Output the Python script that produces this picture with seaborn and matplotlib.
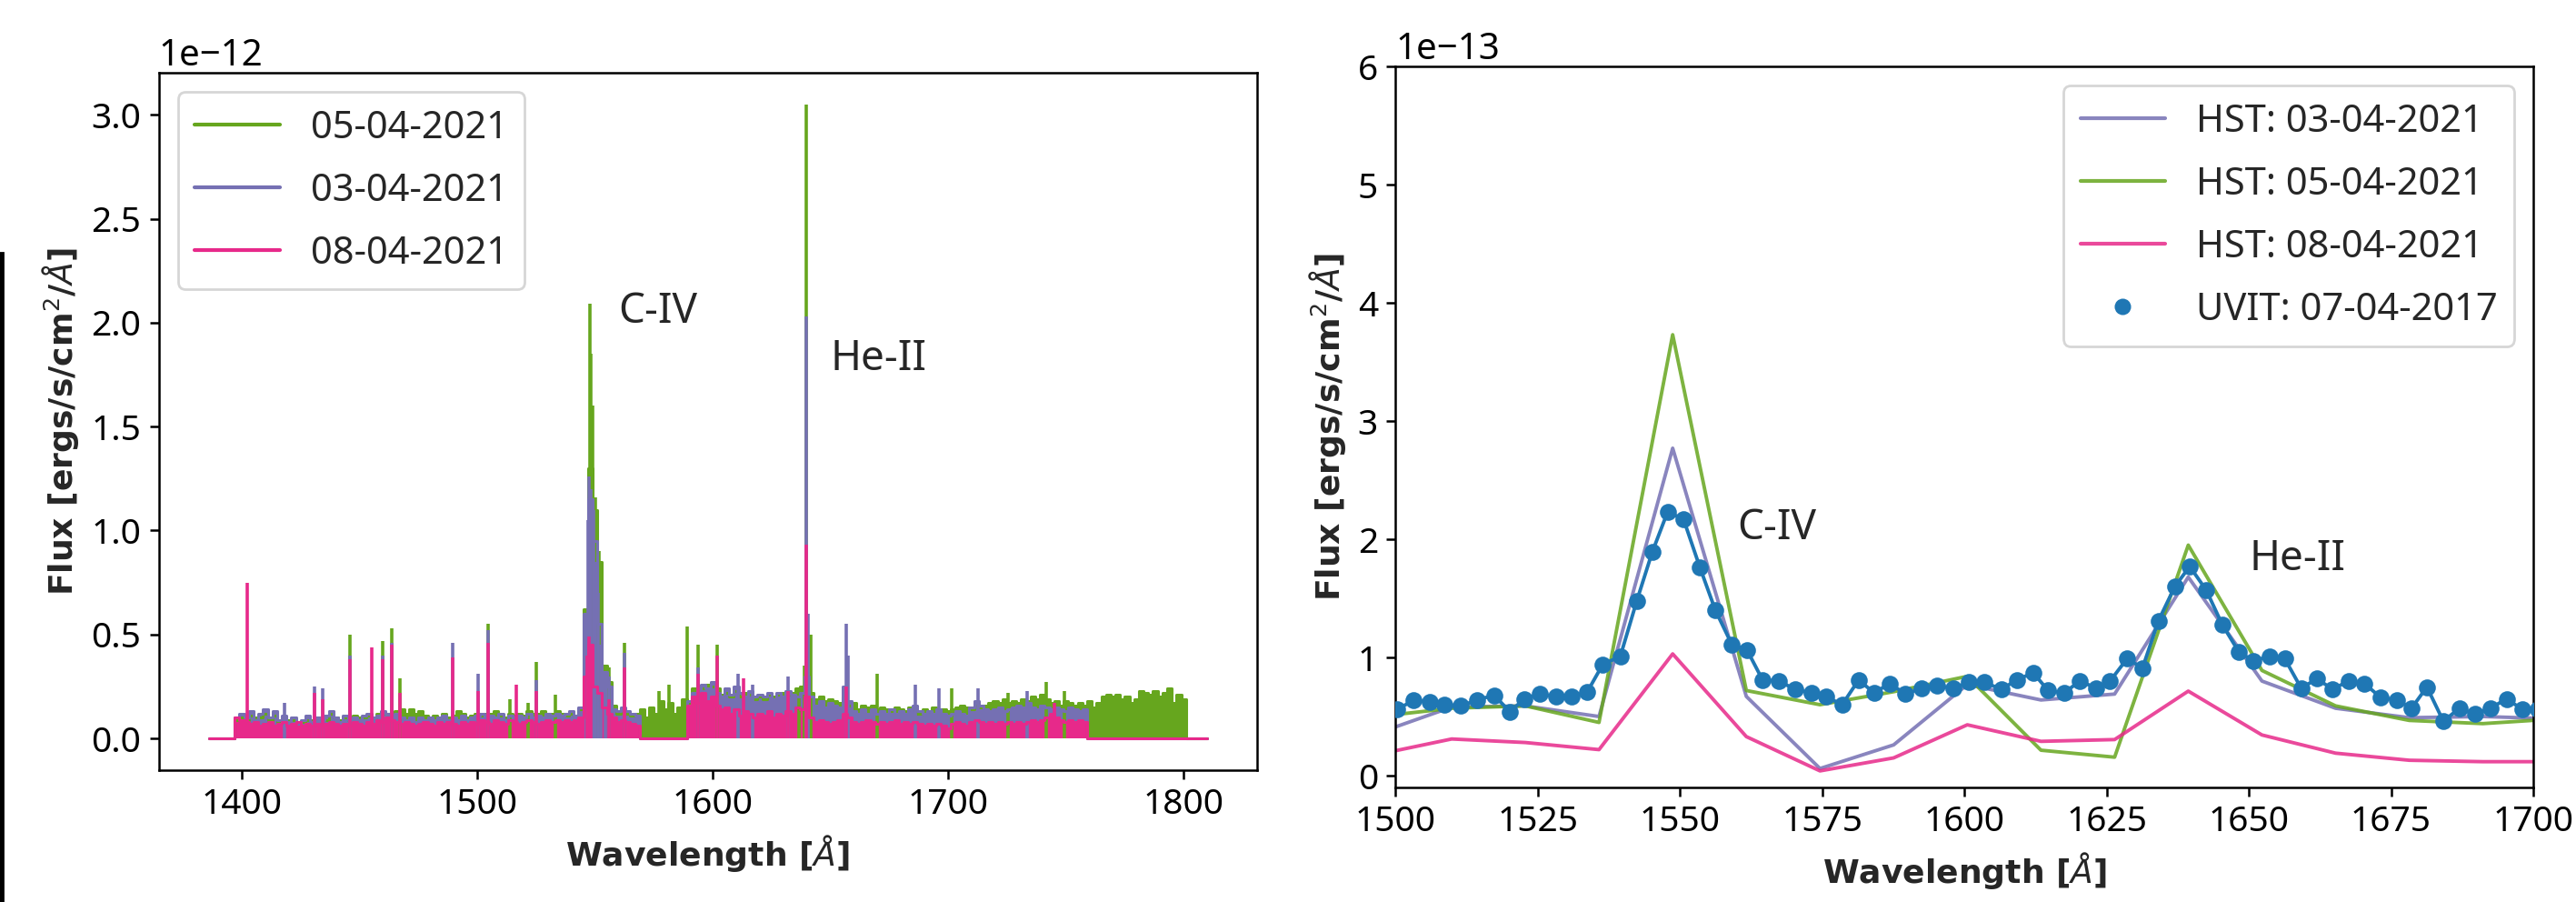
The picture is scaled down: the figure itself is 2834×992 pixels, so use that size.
import numpy as np
import matplotlib
matplotlib.use("Agg")
import matplotlib.pyplot as plt
from matplotlib.lines import Line2D
from matplotlib.patches import Rectangle
import seaborn as sns

# ---------------------------------------------------------------- data
# Full HST/COS spectra, binned on a 2 A grid (flux in units of 1e-12)
wl_grid = np.arange(1386, 1811, 2)

flux_0504 = [
    0, 0, 0, 0, 0, 0, .09, .10, .09, .11,                 # 1386
    .10, .10, .12, .09, .11, .08, .10, .09, .09, .08,     # 1406
    .08, .09, .09, .10, .10, .09, .12, .10, .09, .10,     # 1426
    .09, .11, .10, .10, .11, .10, .12, .12, .12, .12,     # 1446
    .13, .14, .12, .14, .12, .13, .11, .10, .11, .10,     # 1466
    .12, .10, .11, .13, .12, .10, .11, .12, .11, .12,     # 1486
    .12, .13, .11, .10, .12, .11, .12, .11, .13, .12,     # 1506
    .12, .13, .12, .12, .13, .12, .11, .12, .11, .14,     # 1526
    .62, 1.30, 1.10, .85, .35, .27, .16, .12, .14, .12,   # 1546
    .11, .12, .14, .10, .15, .12, .18, .14, .17, .12,     # 1566
    .15, .19, .17, .24, .23, .24, .26, .25, .24, .21,     # 1586
    .22, .20, .23, .20, .22, .21, .19, .20, .19, .21,     # 1606
    .20, .21, .22, .21, .22, .24, .25, .30, .22, .19,     # 1626
    .20, .18, .19, .18, .17, .20, .16, .17, .14, .16,     # 1646
    .15, .16, .14, .15, .14, .13, .15, .14, .13, .15,     # 1666
    .14, .12, .14, .13, .15, .13, .14, .13, .14, .15,     # 1686
    .16, .15, .14, .16, .15, .16, .17, .18, .17, .19,     # 1706
    .17, .18, .17, .19, .18, .20, .19, .21, .19, .17,     # 1726
    .18, .16, .18, .17, .16, .17, .16, .18, .15, .17,     # 1746
    .20, .21, .20, .21, .19, .20, .17, .19, .23, .22,     # 1766
    .21, .23, .20, .22, .24, .17, .21, .19, 0, 0,         # 1786
    0, 0, 0,                                              # 1806
]

flux_0304 = [
    0, 0, 0, 0, 0, 0, .10, .12, .10, .13,                 # 1386
    .09, .12, .14, .10, .13, .09, .11, .08, .10, .07,     # 1406
    .09, .11, .08, .10, .09, .11, .13, .10, .08, .11,     # 1426
    .09, .10, .09, .11, .12, .10, .11, .13, .12, .11,     # 1446
    .12, .10, .09, .10, .08, .10, .09, .10, .09, .10,     # 1466
    .11, .09, .10, .09, .11, .09, .10, .11, .12, .10,     # 1486
    .11, .10, .12, .09, .11, .10, .11, .10, .12, .10,     # 1506
    .11, .10, .12, .11, .12, .11, .12, .13, .11, .15,     # 1526
    .60, 1.15, .95, .55, .32, .25, .14, .13, .15, .13,    # 1546
    .12, .11, 0, 0, 0, 0, 0, 0, 0, 0,                     # 1566
    0, 0, .18, .22, .21, .26, .24, .27, .22, .20,         # 1586
    .24, .21, .25, .22, .20, .23, .20, .21, .20, .22,     # 1606
    .19, .22, .20, .23, .21, .20, .22, .30, .20, .16,     # 1626
    .18, .15, .17, .16, .15, .25, .18, .13, .12, .14,     # 1646
    .12, .14, .12, .13, .12, .14, .12, .13, .12, .14,     # 1666
    .16, .13, .12, .13, .12, .14, .12, .11, .12, .13,     # 1686
    .12, .11, .15, .18, .16, .14, .13, .14, .15, .13,     # 1706
    .14, .15, .16, .15, .17, .15, .14, .16, .15, .14,     # 1726
    .15, .14, .13, .15, .14, .13, .14, 0, 0, 0,           # 1746
    0, 0, 0, 0, 0, 0, 0, 0, 0, 0,                         # 1766
    0, 0, 0, 0, 0, 0, 0, 0, 0, 0,                         # 1786
    0, 0, 0,                                              # 1806
]

flux_0804 = [
    0, 0, 0, 0, 0, 0, .10, .09, .08, .07,                 # 1386
    .08, .06, .07, .08, .06, .07, .08, .06, .07, .08,     # 1406
    .06, .07, .06, .07, .06, .07, .08, .07, .06, .07,     # 1426
    .06, .08, .07, .06, .08, .07, .09, .08, .10, .09,     # 1446
    .08, .07, .08, .07, .06, .07, .08, .07, .06, .08,     # 1466
    .07, .08, .07, .06, .08, .07, .08, .07, .09, .08,     # 1486
    .07, .09, .08, .07, .09, .08, .07, .08, .09, .08,     # 1506
    .07, .08, .09, .08, .09, .08, .09, .08, .09, .10,     # 1526
    .30, .45, .25, .22, .15, .12, .10, .08, .09, .08,     # 1546
    .07, .06, 0, 0, 0, 0, 0, 0, 0, 0,                     # 1566
    0, 0, .16, .20, .17, .22, .18, .20, .16, .14,         # 1586
    .15, .12, .14, .11, .13, .12, .10, .12, .11, .13,     # 1606
    .10, .12, .11, .13, .12, .15, .14, .20, .10, .08,     # 1626
    .09, .08, .07, .08, .09, .12, .10, .08, .07, .08,     # 1646
    .09, .08, .07, .08, .07, .08, .09, .07, .08, .07,     # 1666
    .08, .07, .06, .07, .06, .07, .06, .05, .07, .08,     # 1686
    .07, .06, .08, .09, .08, .07, .08, .07, .08, .07,     # 1706
    .08, .07, .08, .07, .08, .09, .08, .09, .10, .12,     # 1726
    .10, .09, .08, .09, .08, .09, .08, 0, 0, 0,           # 1746
    0, 0, 0, 0, 0, 0, 0, 0, 0, 0,                         # 1766
    0, 0, 0, 0, 0, 0, 0, 0, 0, 0,                         # 1786
    0, 0, 0,                                              # 1806
]

# Narrow emission lines (wavelength, peak flux in 1e-12)
lines_0504_wl = [1445.8, 1460.0, 1463.6, 1467.0, 1504.6, 1514.0, 1521.5, 1525.0,
                 1533.3, 1547.7, 1548.4, 1549.1, 1550.2, 1551.0, 1551.8, 1556.0,
                 1562.5, 1577.1, 1581.3, 1589.1, 1593.7, 1601.8, 1636.7, 1638.8,
                 1639.8, 1641.8, 1669.9, 1701.5, 1725.4, 1741.7, 1749.4]
lines_0504_pk = [0.50, 0.47, 0.53, 0.29, 0.55, 0.19, 0.17, 0.37,
                 0.21, 2.09, 1.85, 1.60, 1.16, 1.05, 0.90, 0.34,
                 0.46, 0.23, 0.26, 0.54, 0.45, 0.45, 0.24, 0.35,
                 3.05, 0.50, 0.31, 0.24, 0.22, 0.27, 0.23]

lines_0304_wl = [1418.0, 1430.7, 1434.3, 1445.8, 1460.0, 1463.6, 1489.6, 1500.5,
                 1504.6, 1525.0, 1546.3, 1546.9, 1547.6, 1548.4, 1549.2, 1550.3,
                 1551.2, 1552.5, 1554.3, 1556.0, 1562.5, 1593.7, 1610.6, 1617.0,
                 1632.1, 1639.9, 1640.6, 1656.6, 1657.3, 1686.0, 1695.9, 1712.7,
                 1733.4]
lines_0304_pk = [0.17, 0.25, 0.24, 0.40, 0.40, 0.46, 0.46, 0.31,
                 0.52, 0.28, 0.60, 1.05, 1.26, 1.20, 1.10, 0.85,
                 0.70, 0.45, 0.32, 0.30, 0.41, 0.34, 0.31, 0.26,
                 0.30, 2.03, 0.60, 0.55, 0.40, 0.26, 0.24, 0.24,
                 0.23]

lines_0804_wl = [1402.2, 1430.7, 1434.3, 1445.8, 1455.0, 1460.0, 1463.6, 1467.0,
                 1489.6, 1500.5, 1504.6, 1516.4, 1524.9, 1546.8, 1547.6, 1548.4,
                 1556.0, 1562.5, 1593.7, 1601.8, 1613.0, 1632.1, 1639.9, 1656.6,
                 1745.3]
lines_0804_pk = [0.75, 0.22, 0.19, 0.38, 0.44, 0.38, 0.45, 0.22,
                 0.39, 0.23, 0.46, 0.26, 0.23, 0.40, 0.49, 0.45,
                 0.19, 0.34, 0.31, 0.40, 0.29, 0.23, 0.93, 0.25,
                 0.17]

# Spectra binned to the UVIT resolution (flux in units of 1e-13)
hst_wl = [1496.9, 1509.85, 1522.8, 1535.75, 1548.7, 1561.65, 1574.6, 1587.55,
          1600.5, 1613.45, 1626.4, 1639.35, 1652.3, 1665.25, 1678.2, 1691.15, 1704.1]
hst_0304 = [0.36, 0.58, 0.59, 0.50, 2.77, 0.67, 0.06, 0.26,
            0.77, 0.64, 0.69, 1.68, 0.80, 0.57, 0.49, 0.50, 0.48]
hst_0504 = [0.50, 0.57, 0.59, 0.45, 3.73, 0.72, 0.60, 0.71,
            0.84, 0.215, 0.156, 1.95, 0.89, 0.59, 0.467, 0.44, 0.48]
hst_0804 = [0.18, 0.31, 0.28, 0.22, 1.03, 0.33, 0.04, 0.15,
            0.43, 0.29, 0.305, 0.715, 0.344, 0.19, 0.13, 0.118, 0.118]

uvit_wl = [1497.5, 1500.3, 1503.2, 1506.0, 1508.6, 1511.5, 1514.3, 1517.3, 1520.1,
           1522.6, 1525.3, 1528.2, 1531.0, 1533.7, 1536.4, 1539.5, 1542.4, 1545.1,
           1547.8, 1550.6, 1553.5, 1556.2, 1559.1, 1561.8, 1564.5, 1567.4, 1570.2,
           1573.1, 1575.6, 1578.5, 1581.4, 1584.1, 1586.9, 1589.6, 1592.5, 1595.2,
           1598.1, 1600.8, 1603.5, 1606.5, 1609.2, 1612.1, 1614.7, 1617.5, 1620.3,
           1623.2, 1625.6, 1628.6, 1631.3, 1634.1, 1637.0, 1639.6, 1642.5, 1645.3,
           1648.2, 1650.8, 1653.6, 1656.3, 1659.2, 1662.0, 1664.7, 1667.5, 1670.3,
           1673.2, 1676.0, 1678.6, 1681.3, 1684.2, 1687.0, 1689.7, 1692.5, 1695.3,
           1698.1, 1700.8]
uvit_flux = [0.55, 0.56, 0.64, 0.62, 0.60, 0.59, 0.64, 0.68, 0.54, 0.65,
             0.69, 0.67, 0.67, 0.71, 0.94, 1.01, 1.48, 1.89, 2.23, 2.17,
             1.76, 1.40, 1.11, 1.06, 0.81, 0.80, 0.73, 0.70, 0.67, 0.60,
             0.81, 0.70, 0.78, 0.69, 0.74, 0.76, 0.74, 0.79, 0.79, 0.73,
             0.81, 0.87, 0.72, 0.70, 0.80, 0.74, 0.80, 0.99, 0.91, 1.31,
             1.60, 1.77, 1.57, 1.28, 1.05, 0.97, 1.01, 0.99, 0.74, 0.82,
             0.73, 0.80, 0.78, 0.66, 0.64, 0.57, 0.75, 0.46, 0.57, 0.52,
             0.57, 0.65, 0.56, 0.56]

labels_full = ["05-04-2021", "03-04-2021", "08-04-2021"]
labels_zoom = ["HST: 03-04-2021", "HST: 05-04-2021", "HST: 08-04-2021", "UVIT: 07-04-2017"]

# ---------------------------------------------------------------- style
sns.set_style("ticks")
plt.rcParams["font.family"] = ["Noto Sans", "DejaVu Sans"]
plt.rcParams["axes.edgecolor"] = "black"
plt.rcParams["xtick.color"] = "black"
plt.rcParams["ytick.color"] = "black"
plt.rcParams["axes.linewidth"] = 0.9

GREEN, PURPLE, PINK = "#66a61e", "#7570b3", "#e7298a"
BLUE = "#1f77b4"
TICK_FS, LAB_FS, LEG_FS, ANN_FS, OFF_FS = 14, 13, 15, 16.5, 14.5
LABEL_FONT = dict(fontsize=LAB_FS, fontweight="bold", family=["DejaVu Sans"])
LEGEND_KW = dict(fontsize=LEG_FS, handlelength=2.25, handletextpad=0.8,
                 labelspacing=0.65, borderpad=0.45)

fig = plt.figure(figsize=(14.17, 4.96), dpi=200)
ax1 = fig.add_axes([0.0617, 0.1462, 0.4263, 0.7732])
ax2 = fig.add_axes([0.5418, 0.1270, 0.4416, 0.7994])

# ---------------------------------------------------------------- left: full spectra
E12 = 1e-12
series = [
    (flux_0504, lines_0504_wl, lines_0504_pk, GREEN),
    (flux_0304, lines_0304_wl, lines_0304_pk, PURPLE),
    (flux_0804, lines_0804_wl, lines_0804_pk, PINK),
]
for flux, lw_, pk, col in series:
    y = np.asarray(flux) * E12
    ax1.fill_between(wl_grid, 0, y, step="mid", color=col, lw=0)
    sns.lineplot(x=wl_grid, y=y, ax=ax1, color=col, lw=1.1,
                 drawstyle="steps-mid", estimator=None, sort=False)
    ax1.vlines(lw_, 0, np.asarray(pk) * E12, color=col, lw=1.3)

ax1.set_xticks([1400, 1500, 1600, 1700, 1800])
ax1.set_yticks(np.arange(0, 3.01, 0.5) * E12)
ax1.text(1560, 2.0 * E12, "C-IV", fontsize=ANN_FS)
ax1.text(1650, 1.77 * E12, "He-II", fontsize=ANN_FS)

h1 = [Line2D([], [], color=c, lw=1.5) for c in (GREEN, PURPLE, PINK)]
ax1.legend(h1, labels_full, loc="upper left", **LEGEND_KW)

# ---------------------------------------------------------------- right: binned comparison
E13 = 1e-13
hst_wl_a = np.asarray(hst_wl)
for vals, col in ((hst_0304, PURPLE), (hst_0504, GREEN), (hst_0804, PINK)):
    sns.lineplot(x=hst_wl_a, y=np.asarray(vals) * E13, ax=ax2, color=col,
                 alpha=0.85, lw=1.4, estimator=None, sort=False)
sns.lineplot(x=np.asarray(uvit_wl), y=np.asarray(uvit_flux) * E13, ax=ax2,
             color=BLUE, lw=1.4, estimator=None, sort=False)
sns.scatterplot(x=np.asarray(uvit_wl), y=np.asarray(uvit_flux) * E13, ax=ax2,
                color=BLUE, s=45, linewidth=0, zorder=3)

ax2.set_xlim(1500, 1700)
ax2.set_ylim(-0.1 * E13, 6 * E13)
ax2.set_xticks(np.arange(1500, 1701, 25))
ax2.set_yticks(np.arange(0, 7) * E13)
ax2.text(1560, 2.0 * E13, "C-IV", fontsize=ANN_FS)
ax2.text(1650, 1.74 * E13, "He-II", fontsize=ANN_FS)

h2 = [Line2D([], [], color=c, lw=1.5, alpha=0.85) for c in (PURPLE, GREEN, PINK)]
h2.append(Line2D([], [], color=BLUE, ls="none", marker="o", markersize=6.5,
                 markeredgewidth=0))
ax2.legend(h2, labels_zoom, loc="upper right", **LEGEND_KW)

for ax in (ax1, ax2):
    ax.set_xlabel(r"Wavelength [$\AA$]", **LABEL_FONT)
    ax.set_ylabel(r"Flux [ergs/s/cm$^2$/$\AA$]", **LABEL_FONT)
    ax.tick_params(labelsize=TICK_FS, length=3.5, width=0.9)
    ax.yaxis.get_offset_text().set_fontsize(OFF_FS)
    for sp in ax.spines.values():
        sp.set_visible(True)

# dark strip along the left border
fig.patches.append(Rectangle((0, 0), 3 / 2834, 0.72, transform=fig.transFigure,
                             color="black", zorder=10))

fig.savefig("out.png", dpi=200)
